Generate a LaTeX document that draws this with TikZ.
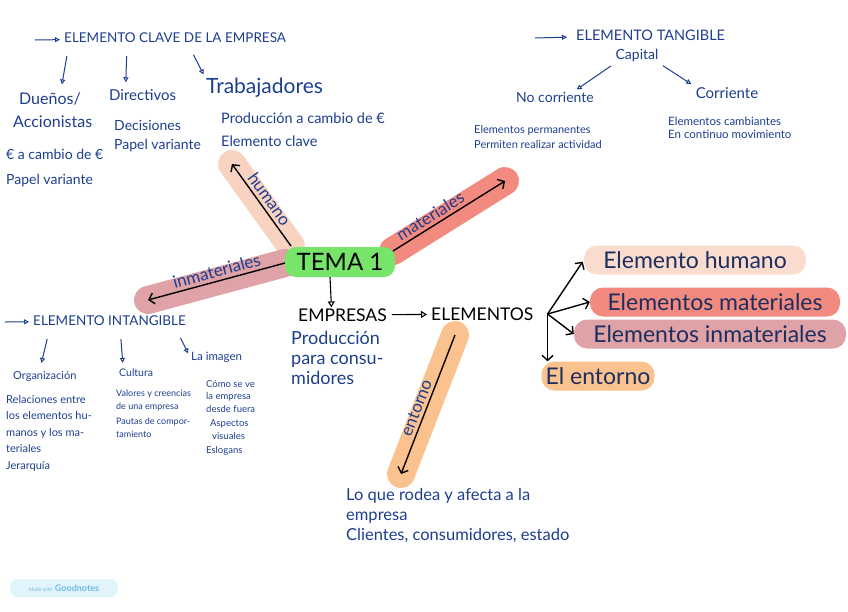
\documentclass[tikz,border=0pt]{standalone}
\usepackage{fontspec}
\setmainfont{Lato}
\usetikzlibrary{arrows.meta,backgrounds}
\definecolor{inkblue}{HTML}{1D3E8E}
\definecolor{pilltext}{HTML}{1C2F5E}
\definecolor{temagreen}{HTML}{76E569}
\definecolor{peachband}{HTML}{F9D3C2}
\definecolor{salmonband}{HTML}{F28A80}
\definecolor{roseband}{HTML}{DFA2A6}
\definecolor{orangeband}{HTML}{FAC28E}
\definecolor{badgefill}{HTML}{E2F3FB}
\definecolor{badgetext}{HTML}{6FBDE3}

\begin{document}
\begin{tikzpicture}[x=1pt, y=-1pt,
txt/.style 2 args={text=inkblue, inner sep=1pt, anchor=west, align=left, font=\fontsize{#1}{#2}\selectfont},
caps/.style={inner sep=1pt, font=\fontsize{17.5}{20}\selectfont},
pill/.style={rounded corners=13pt, minimum height=29pt, inner ysep=0pt, inner xsep=4pt, text=pilltext, font=\fontsize{23}{25}\selectfont},
band/.style={line width=28pt, line cap=round},
onband/.style={sloped, above, inner sep=3pt, text=inkblue, font=\fontsize{17}{19}\selectfont},
karr/.style={draw=black, line width=1.4pt, -{Straight Barb[length=5pt,width=11pt]}},
tarr/.style={draw=black, line width=1.1pt, -{Triangle[open,length=6pt,width=7pt]}},
barr/.style={draw=inkblue, line width=1pt, -{Triangle[open,length=5pt,width=5pt]}},
]
\useasboundingbox (0,0) rectangle (848,611);

\node[fill=temagreen, rounded corners=11pt, minimum width=110pt, minimum height=30pt, inner sep=0pt, font=\fontsize{24}{26}\selectfont] (tema) at (340,262) {TEMA 1};

\coordinate (humA) at (291,246);
\coordinate (humB) at (232,164);
\coordinate (matA) at (393,251);
\coordinate (matB) at (505,181);
\coordinate (inmA) at (285,263);
\coordinate (inmB) at (148,300);
\coordinate (entA) at (455,335);
\coordinate (entB) at (401,474);

\begin{scope}[on background layer]
\draw[band, peachband] (humA) -- (humB);
\draw[band, salmonband] (matA) -- (matB);
\draw[band, roseband] (inmA) -- (inmB);
\draw[band, orangeband] (entA) -- (entB);
\end{scope}

\draw[karr] (humA) -- (humB) node[onband, pos=0.5] {humano};
\draw[karr] (matA) -- (matB) node[onband, pos=0.38] {materiales};
\draw[karr] (inmA) -- (inmB) node[onband, pos=0.48] {inmateriales};
\draw[karr] (entA) -- (entB) node[onband, pos=0.55] {entorno};

% empresas y elementos
\node[caps, anchor=west] (emp) at (297,315) {EMPRESAS};
\node[caps, anchor=west] (elem) at (430,314) {ELEMENTOS};
\draw[tarr] ([xshift=-10pt]tema.south) -- ([xshift=-11pt]emp.north);
\draw[tarr, shorten <=4pt, shorten >=3pt] (emp) -- (elem);
\node[txt={18}{20}, anchor=north west] (prod) at (290,330) {Producción\\para consu-\\midores};

\node[pill, fill=peachband!80!white, minimum width=222pt] (ehum) at (695,260) {Elemento humano};
\node[pill, fill=salmonband, minimum width=250pt] (emat) at (715,302) {Elementos materiales};
\node[pill, fill=roseband, minimum width=272pt] (einm) at (710,334) {Elementos inmateriales};
\node[pill, fill=orangeband, minimum width=113pt] (eent) at (598,376) {El entorno};

\coordinate (hub) at ([xshift=13pt]elem.east);
\draw[karr, shorten >=2pt] (hub) -- (ehum.west);
\draw[karr] (hub) -- (emat.west);
\draw[karr] (hub) -- (einm.west);
\draw[karr] (hub) -- (hub |- eent.north);

\node[txt={16.5}{20}, anchor=north west] (rodea) at (345,487) {Lo que rodea y afecta a la\\empresa\\Clientes, consumidores, estado};

% elemento clave
\coordinate (claveS) at (35,40);
\node[txt={13.5}{16}] (clave) at (63,38) {ELEMENTO CLAVE DE LA EMPRESA};
\draw[barr, shorten >=3pt] (claveS) -- (clave);
\node[txt={16}{23}] (duenos) at (12,110) {\hspace{6pt}Dueños/\\Accionistas};
\node[txt={15}{18}] (direct) at (108,95) {Directivos};
\node[txt={21}{24}] (trab) at (205,88) {Trabajadores};
\node[txt={14}{19}] (decis) at (113,136) {Decisiones\\Papel variante};
\node[txt={14.5}{23}] (prodc) at (220,130) {Producción a cambio de €\\Elemento clave};
\node[txt={14}{25}] (cambio) at (5,168) {€ a cambio de €\\Papel variante};
\draw[barr, shorten <=12pt, shorten >=7pt] ([xshift=6pt]clave.south west) -- ([xshift=8pt]duenos.north);
\draw[barr, shorten <=12pt, shorten >=6pt] ([xshift=64pt]clave.south west) -- ([xshift=-17pt]direct.north);
\draw[barr, shorten <=12pt, shorten >=3pt] ([xshift=125pt]clave.south west) -- (trab.north west);

% elemento tangible
\coordinate (tangS) at (535,38);
\node[txt={14.5}{17}] (tang) at (575,35) {ELEMENTO TANGIBLE};
\draw[barr, shorten >=8pt] (tangS) -- (tang);
\node[txt={14}{16}, anchor=center] (capital) at (637,56) {Capital};
\node[txt={14}{16}, anchor=center] (nocor) at (555,97) {No corriente};
\node[txt={15}{17}, anchor=center] (cor) at (727,93) {Corriente};
\draw[barr, shorten <=4pt, shorten >=2pt] (capital.south west) -- ([xshift=20pt]nocor.north);
\draw[barr, shorten <=4pt, shorten >=4pt] (capital.south east) -- (cor.north west);
\node[txt={11}{15}] (perm) at (473,137) {Elementos permanentes\\Permiten realizar actividad};
\node[txt={11.5}{13}] (camb) at (667,128) {Elementos cambiantes\\En continuo movimiento};

% elemento intangible
\coordinate (intS) at (5,322);
\node[txt={13.5}{16}] (intang) at (32,321) {ELEMENTO INTANGIBLE};
\draw[barr, shorten >=3pt] (intS) -- (intang);
\node[txt={11}{13}] (organ) at (12,376) {Organización};
\node[txt={10.5}{13}] (cult) at (118,373) {Cultura};
\node[txt={11.5}{13}] (imag) at (190,357) {La imagen};
\draw[barr, shorten <=12pt, shorten >=7pt] ([xshift=18pt]intang.south west) -- ([xshift=-5pt]organ.north);
\draw[barr, shorten <=12pt, shorten >=5pt] ([xshift=88pt]intang.south west) -- ([xshift=-13pt]cult.north);
\draw[barr, shorten <=12pt, shorten >=4pt] ([xshift=143pt]intang.south west) -- (imag.west);
\node[txt={11}{16.5}, anchor=north west] (rel) at (5,394) {Relaciones entre\\los elementos hu-\\manos y los ma-\\teriales\\Jerarquía};
\node[txt={9}{13}, anchor=north west] (val) at (115,389) {Valores y creencias\\de una empresa\\[2pt]Pautas de compor-\\tamiento};
\node[txt={9.5}{12.5}, anchor=north west] (como) at (205,379) {Cómo se ve\\la empresa\\desde fuera\\[2pt]\hspace{4pt}Aspectos\\\hspace{6pt}visuales\\[2pt]Eslogans};

\node[fill=badgefill, rounded corners=8pt, minimum width=108pt, minimum height=18pt, inner sep=2pt, text=badgetext] (badge) at (64,588) {{\fontsize{5}{6}\selectfont Made with} {\fontsize{9}{10}\selectfont\bfseries Goodnotes}};
\end{tikzpicture}
\end{document}
